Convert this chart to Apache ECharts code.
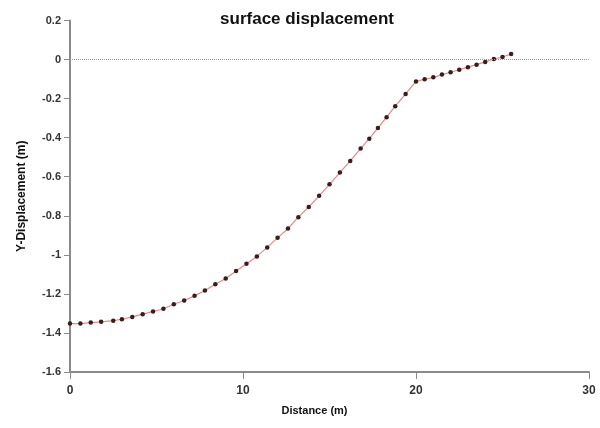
<!DOCTYPE html>
<html>
<head>
<meta charset="utf-8">
<script src="https://cdn.jsdelivr.net/npm/echarts@6/dist/echarts.min.js"></script>
<style>
  html, body { margin: 0; padding: 0; background: #fff; }
  #chart { width: 600px; height: 428px; }
</style>
</head>
<body>
<div id="chart"></div>
<script>
// distance (m)
const distance = [
  0, 0.6, 1.2, 1.8, 2.5, 3.0, 3.6, 4.2, 4.8, 5.4,
  6.0, 6.6, 7.2, 7.8, 8.4, 9.0, 9.6, 10.2, 10.8, 11.4,
  12.0, 12.6, 13.2, 13.8, 14.4, 15.0, 15.6, 16.2, 16.8, 17.3,
  17.8, 18.3, 18.8, 19.4, 20.0, 20.5, 21.0, 21.5, 22.0, 22.5,
  23.0, 23.5, 24.0, 24.5, 25.0, 25.5
]
// y displacement (m)
const yDisp = [
  -1.352, -1.352, -1.347, -1.343, -1.337, -1.330, -1.318, -1.304, -1.290, -1.276,
  -1.253, -1.234, -1.210, -1.183, -1.151, -1.121, -1.083, -1.046, -1.008, -0.962,
  -0.913, -0.865, -0.807, -0.755, -0.698, -0.639, -0.579, -0.519, -0.456, -0.405,
  -0.350, -0.295, -0.239, -0.176, -0.112, -0.101, -0.091, -0.077, -0.065, -0.052,
  -0.039, -0.026, -0.012, 0.003, 0.013, 0.029
]
const xTicks = { min: 0, max: 30, step: 10 }
const yTicks = { min: -1.6, max: 0.2, step: 0.2 }

const points = distance.map((d, i) => [d, yDisp[i]])
const font = '"Liberation Sans", Arial, sans-serif'

const chart = echarts.init(document.getElementById('chart'))
chart.setOption({
  animation: false,
  title: {
    text: 'surface displacement',
    left: 302,
    top: 6,
    textAlign: 'center',
    textStyle: { fontFamily: font, fontSize: 17, fontWeight: 'bold', color: '#111' }
  },
  grid: { left: 70, right: 11, top: 20.5, bottom: 56 },
  xAxis: {
    type: 'value',
    min: xTicks.min,
    max: xTicks.max,
    interval: xTicks.step,
    name: 'Distance (m)',
    nameLocation: 'middle',
    nameGap: 33,
    nameTextStyle: { fontFamily: font, fontSize: 11, fontWeight: 'bold', color: '#111', padding: [0, 30, 0, 0] },
    axisLine: { onZero: false, lineStyle: { color: '#8a8a8a', width: 2 } },
    axisTick: { length: 7, lineStyle: { color: '#8a8a8a' } },
    axisLabel: { fontFamily: font, fontSize: 12, fontWeight: 'bold', color: '#333', margin: 13 },
    splitLine: { show: false }
  },
  yAxis: {
    type: 'value',
    min: yTicks.min,
    max: yTicks.max,
    interval: yTicks.step,
    name: 'Y-Displacement (m)',
    nameLocation: 'middle',
    nameGap: 42,
    nameTextStyle: { fontFamily: font, fontSize: 12, fontWeight: 'bold', color: '#111' },
    axisLine: { show: true, onZero: false, lineStyle: { color: '#8a8a8a', width: 2 } },
    axisTick: { show: true, length: 6, lineStyle: { color: '#8a8a8a' } },
    axisLabel: { fontFamily: font, fontSize: 11, fontWeight: 'bold', color: '#333', margin: 9 },
    splitLine: { show: false }
  },
  series: [{
    type: 'line',
    data: points,
    symbol: 'circle',
    symbolSize: 4.5,
    itemStyle: { color: '#3a1c1c' },
    lineStyle: { color: '#e58a8a', width: 1.2 },
    markLine: {
      silent: true,
      symbol: 'none',
      label: { show: false },
      lineStyle: { color: '#999', type: 'dotted', width: 1 },
      data: [{ yAxis: 0 }]
    }
  }]
})
</script>
</body>
</html>
